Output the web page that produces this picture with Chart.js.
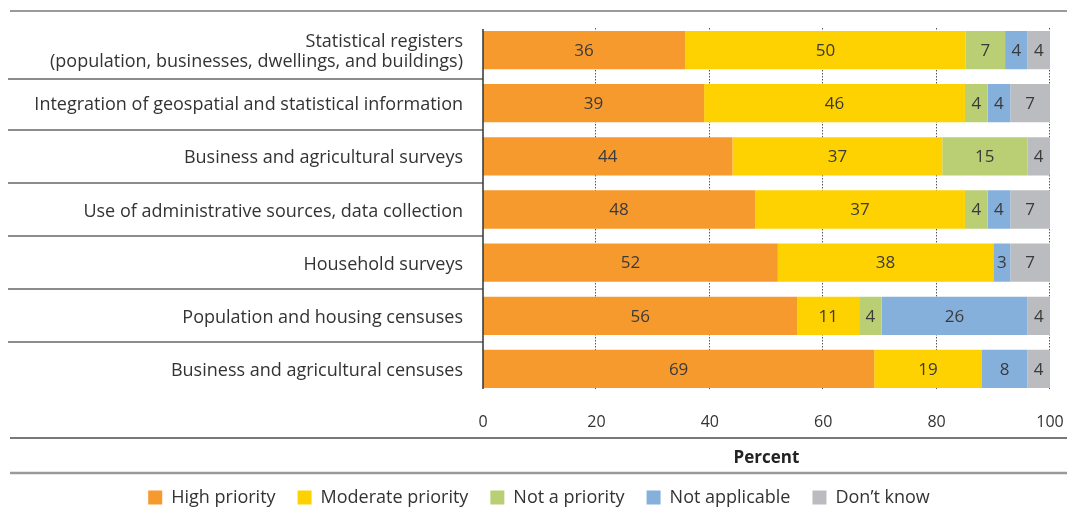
<!DOCTYPE html>
<html lang="en">
<head>
<meta charset="UTF-8">
<title>Priorities for statistical modernization</title>
<script src="https://cdn.jsdelivr.net/npm/chart.js@4.4.0/dist/chart.umd.min.js"></script>
<style>
  html, body { margin: 0; padding: 0; background: #fff; }
  #wrap { position: relative; width: 1067px; height: 509px; }
</style>
</head>
<body>
<div id="wrap"><canvas id="chart"></canvas></div>
<script>
// Data (percent of respondents, as labelled)
const categories = [
  ['Statistical registers', '(population, businesses, dwellings, and buildings)'],
  'Integration of geospatial and statistical information',
  'Business and agricultural surveys',
  'Use of administrative sources, data collection',
  'Household surveys',
  'Population and housing censuses',
  'Business and agricultural censuses'
];
const highPriority     = [36, 39, 44, 48, 52, 56, 69];
const moderatePriority = [50, 46, 37, 37, 38, 11, 19];
const notPriority      = [7, 4, 15, 4, null, 4, null];
const notApplicable    = [4, 4, null, 4, 3, 26, 8];
const dontKnow         = [4, 7, 4, 7, 7, 4, 4];
const xTicks = [0, 20, 40, 60, 80, 100];

const seriesNames  = ['High priority', 'Moderate priority', 'Not a priority', 'Not applicable', 'Don\u2019t know'];
const seriesValues = [highPriority, moderatePriority, notPriority, notApplicable, dontKnow];
const seriesColors = ['#F79A2E', '#FDD200', '#BACF74', '#86B0DC', '#BBBCBF'];

// bars are drawn as shares of each row's total (rows sum to 100 or 101)
const rowTotals = categories.map((c, i) => seriesValues.reduce((s, arr) => s + (arr[i] || 0), 0));

const FONT = '"Open Sans"';
const TEXT = '#333333';

const decor = {
  id: 'decor',
  beforeDatasetsDraw(chart) {
    const { ctx, chartArea, scales: { x, y } } = chart;
    const meta = chart.getDatasetMeta(0);
    const first = meta.data[0], last = meta.data[meta.data.length - 1];
    const top = first.y - first.height / 2;
    const bottom = last.y + last.height / 2;
    ctx.save();
    // dotted vertical grid
    ctx.strokeStyle = '#555';
    ctx.lineWidth = 1;
    ctx.setLineDash([1.5, 1.5]);
    xTicks.forEach(v => {
      if (v === 0) return;
      const px = Math.round(x.getPixelForValue(v)) - 0.5;
      ctx.beginPath(); ctx.moveTo(px, top - 3); ctx.lineTo(px, bottom + 1); ctx.stroke();
    });
    ctx.setLineDash([]);
    // separators between category labels
    ctx.strokeStyle = '#8c8c8c';
    ctx.lineWidth = 2;
    for (let i = 0; i < categories.length - 1; i++) {
      const py = Math.round((y.getPixelForValue(i) + y.getPixelForValue(i + 1)) / 2) + (i === 0 ? 2 : 0);
      ctx.beginPath(); ctx.moveTo(8, py); ctx.lineTo(chartArea.left, py); ctx.stroke();
    }
    // horizontal rules
    ctx.strokeStyle = '#9a9a9a';
    ctx.lineWidth = 2;
    ctx.beginPath(); ctx.moveTo(10, 11); ctx.lineTo(chart.width, 11); ctx.stroke();
    ctx.strokeStyle = '#4d4d4d';
    ctx.lineWidth = 1.5;
    ctx.beginPath(); ctx.moveTo(10, 438); ctx.lineTo(chart.width, 438); ctx.stroke();
    ctx.strokeStyle = '#9a9a9a';
    ctx.lineWidth = 2.5;
    ctx.beginPath(); ctx.moveTo(10, 473); ctx.lineTo(chart.width, 473); ctx.stroke();
    ctx.restore();
  },
  afterDatasetsDraw(chart) {
    const { ctx, chartArea } = chart;
    const meta = chart.getDatasetMeta(0);
    const first = meta.data[0], last = meta.data[meta.data.length - 1];
    ctx.save();
    // left axis line
    ctx.strokeStyle = '#333';
    ctx.lineWidth = 1.5;
    ctx.beginPath();
    ctx.moveTo(chartArea.left, first.y - first.height / 2 - 2);
    ctx.lineTo(chartArea.left, last.y + last.height / 2 + 1);
    ctx.stroke();
    // value labels
    ctx.fillStyle = '#3a3a3a';
    ctx.font = '17px ' + FONT;
    ctx.textAlign = 'center';
    ctx.textBaseline = 'middle';
    chart.data.datasets.forEach((ds, di) => {
      chart.getDatasetMeta(di).data.forEach((el, i) => {
        const v = seriesValues[di][i];
        if (v == null) return;
        ctx.fillText(String(v), (el.x + el.base) / 2, el.y + 1);
      });
    });
    ctx.restore();
  }
};

new Chart(document.getElementById('chart'), {
  type: 'bar',
  data: {
    labels: categories,
    datasets: seriesNames.map((name, k) => ({
      label: name,
      data: seriesValues[k].map((v, i) => v == null ? null : v / rowTotals[i] * 100),
      backgroundColor: seriesColors[k],
      borderWidth: 0,
      barPercentage: 0.72,
      categoryPercentage: 1.0
    }))
  },
  options: {
    indexAxis: 'y',
    responsive: true,
    maintainAspectRatio: false,
    animation: false,
    layout: { padding: { top: 23.5, right: 17, left: 28, bottom: 0 } },
    scales: {
      x: {
        stacked: true,
        min: 0,
        max: 100,
        border: { display: false },
        grid: { display: false, drawTicks: false },
        afterBuildTicks: s => { s.ticks = xTicks.map(v => ({ value: v })); },
        ticks: { padding: 17, color: TEXT, font: { family: FONT, size: 16 } },
        title: {
          display: true,
          text: 'Percent',
          color: '#222',
          font: { family: FONT, size: 17, weight: 'bold' },
          padding: { top: 0, bottom: -2 }
        },
        afterFit: s => { s.height = 71; s.paddingLeft = 0; s.paddingRight = 0; }
      },
      y: {
        stacked: true,
        border: { display: false },
        grid: { display: false, drawTicks: false },
        ticks: { padding: 20, labelOffset: 2, color: TEXT, font: { family: FONT, size: 18, lineHeight: 1.11 } },
        afterFit: s => { s.width = 455; s.paddingTop = 0; s.paddingBottom = 0; }
      }
    },
    plugins: {
      legend: {
        position: 'bottom',
        maxHeight: 42.5,
        labels: {
          boxWidth: 14,
          boxHeight: 14,
          padding: 22,
          color: TEXT,
          font: { family: FONT, size: 18 }
        }
      },
      tooltip: { enabled: false }
    }
  },
  plugins: [decor]
});
</script>
</body>
</html>
